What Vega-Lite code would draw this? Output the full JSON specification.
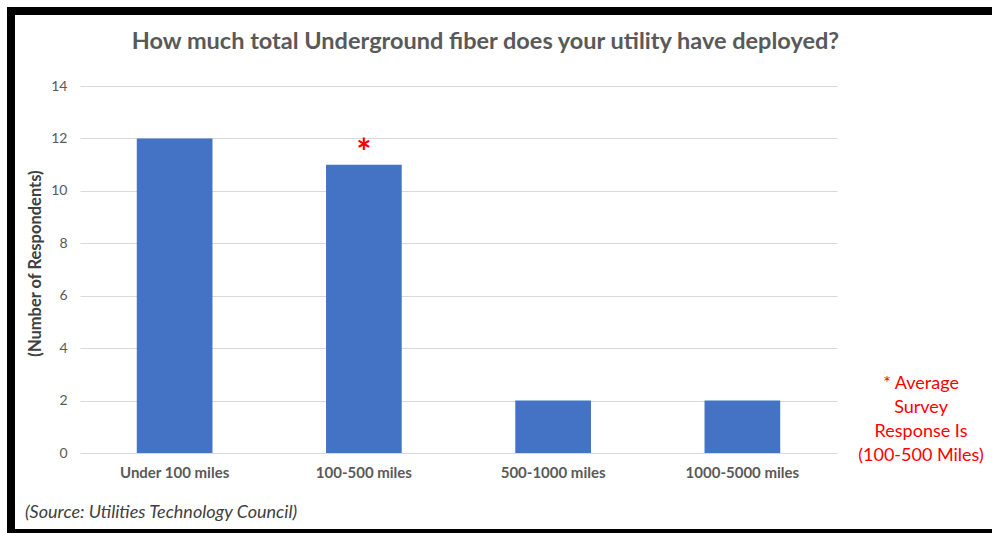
{
  "$schema": "https://vega.github.io/schema/vega-lite/v6.json",
  "width": 977,
  "height": 522,
  "autosize": {"type": "none"},
  "padding": {"left": 11, "top": 11, "right": 4, "bottom": 0},
  "background": "white",
  "config": {
    "font": "Lato",
    "view": {"stroke": null, "fill": "white"}
  },
  "datasets": {
    "survey": [
      {"category": "Under 100 miles", "respondents": 12},
      {"category": "100-500 miles", "respondents": 11},
      {"category": "500-1000 miles", "respondents": 2},
      {"category": "1000-5000 miles", "respondents": 2}
    ]
  },
  "layer": [
    {
      "data": {"name": "survey"},
      "mark": {"type": "bar", "color": "#4472C4"},
      "encoding": {
        "x": {
          "field": "category",
          "type": "nominal",
          "sort": null,
          "scale": {
            "type": "band",
            "domain": ["Under 100 miles", "100-500 miles", "500-1000 miles", "1000-5000 miles"],
            "range": [69, 826],
            "paddingInner": 0.6,
            "paddingOuter": 0.3
          },
          "axis": {
            "title": null,
            "offset": -80,
            "domain": false,
            "ticks": false,
            "grid": false,
            "labelAngle": 0,
            "labelPadding": 12,
            "labelFontWeight": "bold",
            "labelFontSize": 15,
            "labelColor": "#595959"
          }
        },
        "y": {
          "field": "respondents",
          "type": "quantitative",
          "scale": {"domain": [0, 14], "range": [442, 75], "nice": false},
          "axis": {
            "title": "(Number of Respondents)",
            "offset": -69,
            "values": [0, 2, 4, 6, 8, 10, 12, 14],
            "domain": false,
            "ticks": false,
            "grid": true,
            "gridColor": "#d9d9d9",
            "gridWidth": 1,
            "labelPadding": 13,
            "labelFontSize": 14,
            "labelColor": "#595959",
            "titleFontSize": 16.5,
            "titleFontWeight": "bold",
            "titleColor": "#404040",
            "titlePadding": 7,
            "titleY": 252
          }
        }
      }
    },
    {
      "data": {"values": [{"category": "100-500 miles", "respondents": 11, "note": "*"}]},
      "mark": {"type": "text", "color": "#FF0000", "fontSize": 36, "fontWeight": "bold", "baseline": "alphabetic", "dy": 0},
      "encoding": {
        "x": {"field": "category", "type": "nominal", "bandPosition": 0.5},
        "y": {"field": "respondents", "type": "quantitative"},
        "text": {"field": "note"}
      }
    },
    {
      "data": {"values": [{"label": "How much total Underground fiber does your utility have deployed?"}]},
      "mark": {"type": "text", "color": "#595959", "fontSize": 23.5, "fontWeight": "bold", "align": "center", "baseline": "alphabetic"},
      "encoding": {
        "x": {"datum": "100-500 miles", "bandPosition": 2.106},
        "y": {"datum": 15.4},
        "text": {"field": "label"}
      }
    },
    {
      "data": {"values": [{"label": "(Source: Utilities Technology Council)"}]},
      "mark": {"type": "text", "color": "#404040", "fontSize": 18, "fontStyle": "italic", "align": "left", "baseline": "alphabetic"},
      "encoding": {
        "x": {"datum": "Under 100 miles", "bandPosition": -1.477},
        "y": {"datum": -2.49},
        "text": {"field": "label"}
      }
    },
    {
      "data": {"values": [{"label": "* Average\nSurvey\nResponse Is\n(100-500 Miles)"}]},
      "mark": {"type": "text", "color": "#FF0000", "fontSize": 18, "align": "center", "baseline": "alphabetic", "lineBreak": "\n", "lineHeight": 24.3},
      "encoding": {
        "x": {"datum": "1000-5000 miles", "bandPosition": 2.86},
        "y": {"datum": 2.46},
        "text": {"field": "label"}
      }
    },
    {
      "data": {"values": [{"edge": "top"}]},
      "mark": {"type": "rule", "color": "black", "strokeWidth": 8},
      "encoding": {
        "x": {"datum": "Under 100 miles", "bandPosition": -1.714},
        "x2": {"datum": "Under 100 miles", "bandPosition": 11.55},
        "y": {"datum": 16.861}
      }
    },
    {
      "data": {"values": [{"edge": "left"}]},
      "mark": {"type": "rule", "color": "black", "strokeWidth": 8},
      "encoding": {
        "x": {"datum": "Under 100 miles", "bandPosition": -1.6615},
        "y": {"datum": 17.014},
        "y2": {"datum": -3.204}
      }
    },
    {
      "data": {"values": [{"edge": "bottom"}]},
      "mark": {"type": "rule", "color": "black", "strokeWidth": 4},
      "encoding": {
        "x": {"datum": "Under 100 miles", "bandPosition": -1.714},
        "x2": {"datum": "Under 100 miles", "bandPosition": 11.55},
        "y": {"datum": -2.975}
      }
    }
  ]
}
